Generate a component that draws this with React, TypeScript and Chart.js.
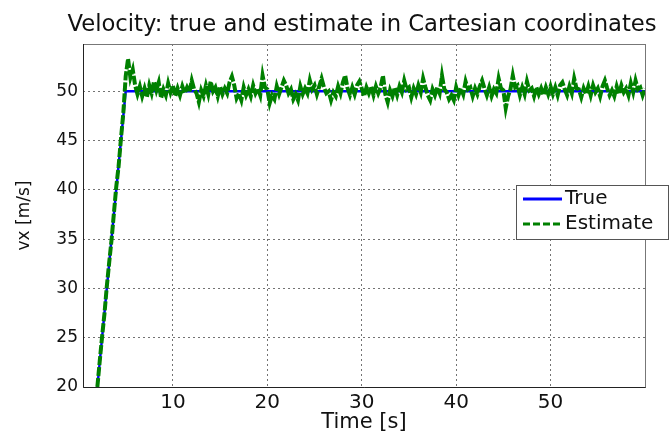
import React, { useEffect, useRef } from "react";
import { Chart, registerables } from "chart.js";

Chart.register(...registerables);

const TITLE = "Velocity: true and estimate in Cartesian coordinates";
const X_LABEL = "Time [s]";
const Y_LABEL = "vx [m/s]";
const X_MIN = 0.48;
const X_MAX = 60;
const Y_MIN = 20;
const Y_MAX = 54.8;
const X_TICKS = [10, 20, 30, 40, 50];
const Y_TICKS = [20, 25, 30, 35, 40, 45, 50];

const TRUE_LABEL = "True";
const TRUE_T = [2, 5, 60];
const TRUE_V = [20, 50, 50];

const EST_LABEL = "Estimate";
const EST_T0 = 2;
const EST_DT = 0.25;
const EST_V = [
  20.0, 22.6, 25.1, 27.4, 30.2, 32.6, 34.9, 37.6, 40.3, 42.4, 45.2, 47.8,
  51.5, 53.3, 51.4, 52.2, 50.6, 49.7, 50.5, 49.5, 50.3, 49.4, 50.6, 49.8, 51.0, 50.1, 50.9, 49.3, 50.2, 49.6, 50.8, 49.9,
  50.6, 49.5, 50.3, 49.6, 50.5, 49.8, 50.4, 49.9, 51.1, 50.2, 49.8, 48.9, 50.1, 49.5, 50.6, 49.7, 51.0, 50.0, 50.4, 49.5,
  50.5, 49.7, 50.3, 49.8, 50.9, 51.5, 50.6, 49.3, 49.8, 49.1, 50.4, 49.6, 50.2, 49.5, 50.6, 49.8, 50.3, 49.6, 51.6, 50.4,
  50.2, 48.8, 49.6, 49.2, 50.5, 49.7, 50.4, 51.1, 50.6, 49.8, 50.2, 49.2, 49.7, 49.1, 50.5, 49.7, 50.3, 49.8, 51.1, 50.2,
  50.6, 49.7, 50.5, 51.3, 50.4, 49.8, 50.0, 49.1, 49.9, 49.5, 50.5, 49.8, 50.9, 51.6, 50.3, 49.6, 50.4, 49.7, 50.6, 51.0,
  50.3, 49.5, 50.4, 49.8, 50.5, 49.6, 50.5, 49.8, 50.4, 51.6, 49.7, 48.9, 50.1, 49.5, 50.4, 49.6, 50.5, 49.9, 51.1, 50.2,
  50.4, 49.4, 50.3, 49.7, 50.6, 49.9, 51.3, 50.4, 49.6, 49.1, 50.2, 49.6, 50.4, 49.8, 51.6, 50.2, 49.9, 49.2, 49.6, 49.1,
  50.4, 49.6, 50.3, 49.7, 51.0, 50.2, 50.4, 49.5, 50.3, 49.7, 50.5, 51.1, 50.3, 49.6, 50.4, 49.5, 50.2, 49.8, 51.3, 50.3,
  50.1, 48.3, 49.5, 50.2, 51.6, 50.4, 50.6, 49.6, 50.4, 49.7, 51.0, 50.1, 50.3, 49.5, 50.4, 49.7, 50.3, 49.6, 50.4, 49.7,
  50.5, 49.7, 50.4, 49.6, 50.6, 50.9, 50.2, 49.6, 50.5, 49.8, 51.3, 50.3, 50.2, 49.4, 50.3, 49.7, 50.5, 49.6, 50.6, 49.9,
  50.3, 49.5, 50.5, 51.1, 50.3, 49.6, 50.1, 49.5, 50.5, 49.7, 50.6, 49.9, 50.3, 49.6, 50.8, 49.9, 51.1, 50.2, 50.4, 49.6,
  50.3,
];

const FONT = "'DejaVu Sans', Arial, sans-serif";

const framePlugin = {
  id: "frameAndLegend",
  afterDatasetsDraw(chart: any) {
    const { ctx, chartArea } = chart;
    const { left, right, top, bottom } = chartArea;
    ctx.save();
    ctx.strokeStyle = "#777";
    ctx.lineWidth = 1;
    ctx.setLineDash([]);
    ctx.strokeRect(left + 0.5, top + 0.5, right - left, bottom - top);
    ctx.strokeStyle = "#222";
    ctx.beginPath();
    ctx.moveTo(left + 0.5, top);
    ctx.lineTo(left + 0.5, bottom + 0.5);
    ctx.lineTo(right + 0.5, bottom + 0.5);
    ctx.stroke();

    // title
    ctx.font = `22.7px ${FONT}`;
    ctx.fillStyle = "#111";
    ctx.textAlign = "center";
    ctx.textBaseline = "middle";
    ctx.fillText(TITLE, (left + right) / 2 - 2, 25);
    ctx.textAlign = "left";

    // legend
    const lx = right - 129;
    const ly = top + 141;
    const lw = 152;
    const lh = 54;
    ctx.fillStyle = "#ffffff";
    ctx.fillRect(lx, ly, lw, lh);
    ctx.strokeStyle = "#555";
    ctx.lineWidth = 1;
    ctx.strokeRect(lx + 0.5, ly + 0.5, lw, lh);
    const ds = chart.data.datasets;
    ctx.font = `20px ${FONT}`;
    ctx.textBaseline = "middle";
    ctx.fillStyle = "#111";
    ds.forEach((d: any, i: number) => {
      const cy = ly + 14 + i * 25;
      ctx.strokeStyle = d.borderColor;
      ctx.lineWidth = 3;
      ctx.setLineDash(d.legendDash || []);
      ctx.beginPath();
      ctx.moveTo(lx + 7, cy);
      ctx.lineTo(lx + 46, cy);
      ctx.stroke();
      ctx.setLineDash([]);
      ctx.fillText(d.label, lx + 49, cy);
    });
    ctx.restore();
  },
};

export default function App() {
  const ref = useRef<HTMLCanvasElement | null>(null);
  useEffect(() => {
    document.body.style.margin = "0";
    const trueData = TRUE_T.map((t, i) => ({ x: t, y: TRUE_V[i] }));
    const estData = EST_V.map((v, i) => ({ x: EST_T0 + i * EST_DT, y: v }));
    const chart = new Chart(ref.current as HTMLCanvasElement, {
      type: "line",
      data: {
        datasets: [
          {
            label: TRUE_LABEL,
            data: trueData,
            borderColor: "#0000ff",
            borderWidth: 2.5,
            pointRadius: 0,
            tension: 0,
            order: 2,
          },
          {
            label: EST_LABEL,
            data: estData,
            borderColor: "#008000",
            borderWidth: 4,
            borderDash: [9, 2],
            legendDash: [7, 3],
            pointRadius: 0,
            tension: 0,
            order: 1,
          },
        ],
      },
      options: {
        animation: false,
        responsive: false,
        maintainAspectRatio: false,
        layout: { padding: { left: 0, right: 25, top: 44, bottom: 0 } },
        plugins: {
          legend: { display: false },
          tooltip: { enabled: false },
          title: { display: false },
        },
        scales: {
          x: {
            type: "linear",
            min: X_MIN,
            max: X_MAX,
            afterBuildTicks: (s: any) => {
              s.ticks = X_TICKS.map((v) => ({ value: v }));
            },
            afterFit: (s: any) => {
              s.height = 57;
            },
            grid: {
              color: "rgba(0,0,0,0.55)",
              drawTicks: false,
            },
            border: { display: false, dash: [2, 3] },
            ticks: {
              color: "#111",
              font: { family: FONT, size: 20 },
              padding: 4,
              maxRotation: 0,
              autoSkip: false,
            },
            title: {
              display: true,
              text: X_LABEL,
              color: "#111",
              font: { family: FONT, size: 21 },
              padding: { top: 9, bottom: 9 },
            },
          },
          y: {
            type: "linear",
            min: Y_MIN,
            max: Y_MAX,
            afterBuildTicks: (s: any) => {
              s.ticks = Y_TICKS.map((v) => ({ value: v }));
            },
            afterFit: (s: any) => {
              s.width = 83;
            },
            grid: {
              color: "rgba(0,0,0,0.55)",
              drawTicks: false,
            },
            border: { display: false, dash: [2, 3] },
            ticks: {
              color: "#111",
              font: { family: FONT, size: 17 },
              padding: 5,
              autoSkip: false,
            },
            title: {
              display: true,
              text: Y_LABEL,
              color: "#111",
              font: { family: FONT, size: 17 },
              padding: { top: 14, bottom: 14 },
            },
          },
        },
      },
      plugins: [framePlugin],
    } as any);
    return () => chart.destroy();
  }, []);
  return (
    <div style={{ width: 670, height: 444 }}>
      <canvas ref={ref} width={670} height={444} style={{ display: "block" }} />
    </div>
  );
}
